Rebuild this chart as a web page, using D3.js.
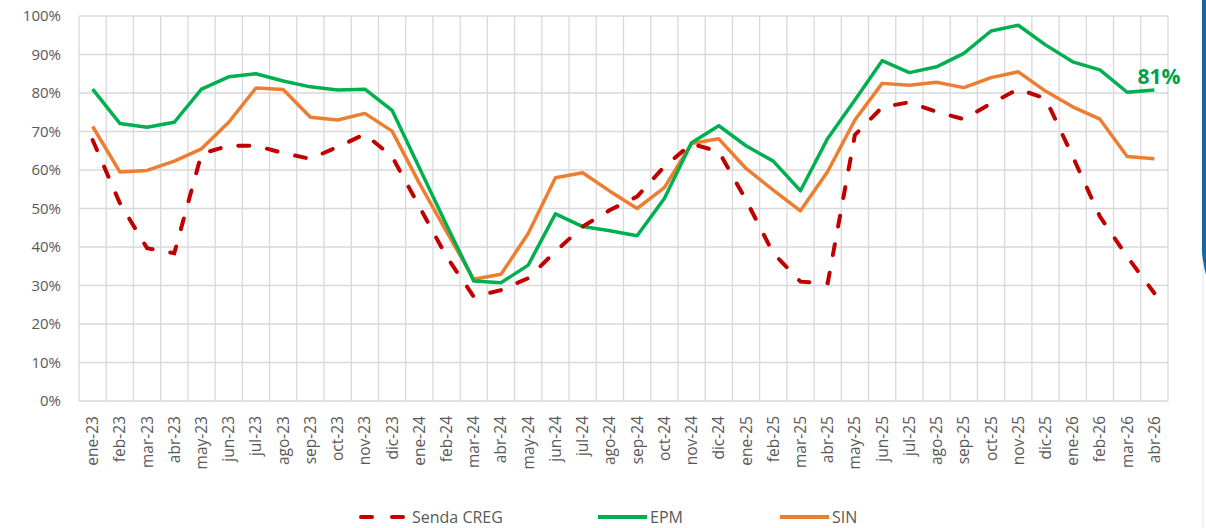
<!DOCTYPE html>
<html>
<head>
<meta charset="utf-8">
<script src="https://cdn.jsdelivr.net/npm/d3@7"></script>
<style>
  html, body { margin: 0; padding: 0; background: #fff; }
  svg { display: block; font-family: "Open Sans", sans-serif; }
</style>
</head>
<body>
<svg id="svg"></svg>
<script>
// meses del eje x
let months = ["ene-23","feb-23","mar-23","abr-23","may-23","jun-23","jul-23","ago-23","sep-23","oct-23","nov-23","dic-23",
              "ene-24","feb-24","mar-24","abr-24","may-24","jun-24","jul-24","ago-24","sep-24","oct-24","nov-24","dic-24",
              "ene-25","feb-25","mar-25","abr-25","may-25","jun-25","jul-25","ago-25","sep-25","oct-25","nov-25","dic-25",
              "ene-26","feb-26","mar-26","abr-26"];

// series (fraccion 0-1)
let sendaCreg = [0.678,0.514,0.397,0.384,0.642,0.663,0.663,0.644,0.629,0.660,0.693,0.635,
                 0.505,0.375,0.271,0.288,0.319,0.388,0.453,0.496,0.531,0.609,0.668,0.648,
                 0.522,0.384,0.310,0.306,0.691,0.763,0.776,0.751,0.732,0.773,0.810,0.786,
                 0.635,0.479,0.375,0.280];
let epm = [0.810,0.721,0.711,0.724,0.810,0.842,0.850,0.831,0.816,0.808,0.810,0.755,
           0.606,0.457,0.312,0.307,0.353,0.486,0.453,0.442,0.429,0.526,0.671,0.715,
           0.663,0.623,0.546,0.682,0.782,0.884,0.853,0.868,0.903,0.961,0.976,0.925,
           0.881,0.860,0.802,0.808];
let sin = [0.713,0.595,0.599,0.623,0.655,0.724,0.813,0.809,0.737,0.730,0.747,0.701,
           0.566,0.440,0.316,0.329,0.435,0.580,0.593,0.545,0.500,0.554,0.669,0.681,
           0.604,0.548,0.494,0.596,0.730,0.825,0.820,0.828,0.814,0.840,0.855,0.805,
           0.764,0.732,0.635,0.629];

let yTicks = [0,0.1,0.2,0.3,0.4,0.5,0.6,0.7,0.8,0.9,1.0];
let lastLabel = "81%";

let W = 1206, H = 528;
let plot = { x1: 79, x2: 1168, y1: 16, y2: 401 };

let svg = d3.select("#svg").attr("width", W).attr("height", H);

let x = d3.scaleBand().domain(months).range([plot.x1, plot.x2]).padding(0);
let y = d3.scaleLinear().domain([0, 1]).range([plot.y2, plot.y1]);
let xc = function(m) { return x(m) + x.bandwidth() / 2; };

// barra azul a la derecha
svg.append("path")
   .attr("d", "M1202,0 L1206,0 L1206,275 Q1202,262 1202,250 Z")
   .attr("fill", "#1666A8");
svg.append("line")
   .attr("x1", 1203).attr("x2", 1203).attr("y1", 262).attr("y2", H)
   .attr("stroke", "#e4e4e4").attr("stroke-width", 1);

// cuadricula
let grid = svg.append("g").attr("stroke", "#d9d9d9").attr("stroke-width", 1.3);
grid.selectAll("line.h").data(yTicks).enter().append("line")
    .attr("x1", plot.x1).attr("x2", plot.x2)
    .attr("y1", d => y(d)).attr("y2", d => y(d));
let edges = months.map(m => x(m)).concat([plot.x2]);
grid.selectAll("line.v").data(edges).enter().append("line")
    .attr("x1", d => d).attr("x2", d => d)
    .attr("y1", plot.y1).attr("y2", plot.y2);

// eje y
svg.append("g").selectAll("text").data(yTicks).enter().append("text")
   .attr("x", 61).attr("y", d => y(d) + 5)
   .attr("text-anchor", "end")
   .attr("font-size", 15).attr("fill", "#595959")
   .text(d => Math.round(d * 100) + "%");

// eje x (rotado)
svg.append("g").selectAll("text").data(months).enter().append("text")
   .attr("transform", d => "translate(" + (xc(d) + 5.5) + ",416) rotate(-90)")
   .attr("text-anchor", "end")
   .attr("font-size", 15.5).attr("fill", "#595959")
   .text(d => d);

// lineas
let line = d3.line().x((d, i) => xc(months[i])).y(d => y(d));

svg.append("path").datum(sin)
   .attr("d", line).attr("fill", "none")
   .attr("stroke", "#ED7D31").attr("stroke-width", 3.5).attr("stroke-linejoin", "round");
svg.append("path").datum(epm)
   .attr("d", line).attr("fill", "none")
   .attr("stroke", "#00B050").attr("stroke-width", 3.5).attr("stroke-linejoin", "round");
svg.append("path").datum(sendaCreg)
   .attr("d", line).attr("fill", "none")
   .attr("stroke", "#C00000").attr("stroke-width", 4)
   .attr("stroke-dasharray", "11,18").attr("stroke-linecap", "round");

// etiqueta ultimo valor EPM
svg.append("text")
   .attr("x", xc(months[months.length - 1]) - 17)
   .attr("y", y(epm[epm.length - 1]) - 6)
   .attr("font-size", 21).attr("font-weight", "bold").attr("fill", "#00A04A")
   .text(lastLabel);

// leyenda
let legend = [
  { name: "Senda CREG", color: "#C00000", dash: true, x: 360 },
  { name: "EPM", color: "#00B050", dash: false, x: 598 },
  { name: "SIN", color: "#ED7D31", dash: false, x: 780 }
];
let lg = svg.append("g").selectAll("g").data(legend).enter().append("g");
lg.append("line")
  .attr("x1", d => d.x + (d.dash ? 1 : 0)).attr("x2", d => d.x + (d.dash ? 44 : 49))
  .attr("y1", 517).attr("y2", 517)
  .attr("stroke", d => d.color).attr("stroke-width", 4)
  .attr("stroke-linecap", d => d.dash ? "round" : "butt")
  .attr("stroke-dasharray", d => d.dash ? "11,20" : null);
lg.append("text")
  .attr("x", d => d.x + 52).attr("y", 523)
  .attr("font-size", 16).attr("fill", "#595959")
  .text(d => d.name);
</script>
</body>
</html>
